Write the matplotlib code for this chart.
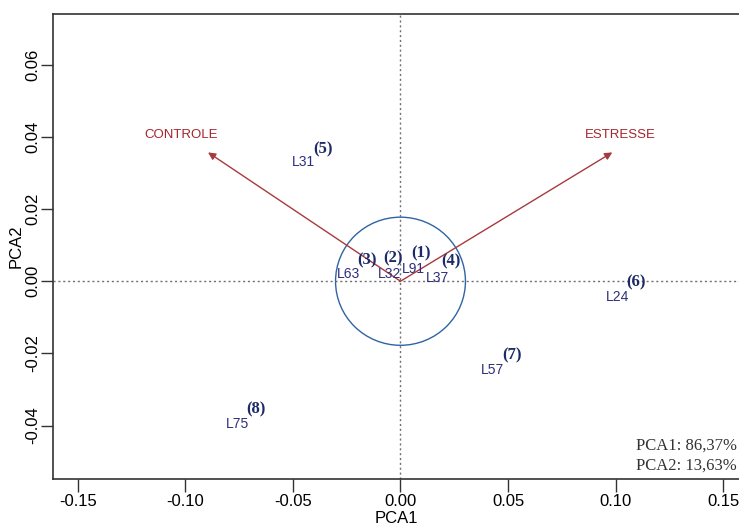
import numpy as np
from matplotlib import pyplot as plt
from matplotlib.patches import Ellipse

# genotype scores (label position) and their numbers
genotypes = ["L31", "L63", "L32", "L91", "L37", "L24", "L57", "L75"]
pc1 = [-0.045, -0.024, -0.005, 0.006, 0.017, 0.101, 0.043, -0.076]
pc2 = [0.033, 0.002, 0.0021, 0.0033, 0.001, -0.0045, -0.0245, -0.0395]
numbers = ["(5)", "(3)", "(2)", "(1)", "(4)", "(6)", "(7)", "(8)"]
num_x = [-0.036, -0.0155, -0.0035, 0.0095, 0.0235, 0.1095, 0.052, -0.067]
num_y = [0.0366, 0.0058, 0.0062, 0.0077, 0.0055, -0.0003, -0.0205, -0.0355]

# environment vectors
envs = ["CONTROLE", "ESTRESSE"]
env_x = [-0.0895, 0.0985]
env_y = [0.0357, 0.0357]
env_lab_x = [-0.102, 0.102]
env_lab_y = [0.0405, 0.0405]

xticks = [-0.15, -0.10, -0.05, 0.00, 0.05, 0.10, 0.15]
yticks = [-0.04, -0.02, 0.00, 0.02, 0.04, 0.06]

def main():
    fig = plt.figure(figsize=(7.39, 5.25), dpi=100)
    ax = fig.add_axes([0.0717, 0.0876, 0.93, 0.8854])
    ax.set_xlim(-0.1616, 0.158)
    ax.set_ylim(-0.0548, 0.074)

    ax.axvline(0, color='#707070', ls=(0, (1.5, 2)), lw=1)
    ax.axhline(0, color='#707070', ls=(0, (1.5, 2)), lw=1)

    # circle around origin (round on screen)
    ax.add_patch(Ellipse((0, 0), 0.0604, 0.0355, fill=False, ec='#2f64a3', lw=1))

    for i in range(len(envs)):
        ax.annotate("", xy=(env_x[i], env_y[i]), xytext=(0, 0),
                    arrowprops=dict(arrowstyle='-|>', color='#a83a3e', lw=1,
                                    mutation_scale=11, shrinkA=0, shrinkB=0))
        ax.text(env_lab_x[i], env_lab_y[i], envs[i], color='#a3262c',
                fontsize=9.5, family='Liberation Sans', ha='center', va='center')

    for i in range(len(genotypes)):
        ax.text(pc1[i], pc2[i], genotypes[i], color='#2e2f7c', fontsize=10,
                family='Liberation Sans', ha='center', va='center')
        ax.text(num_x[i], num_y[i], numbers[i], color='#1c2a66', fontsize=12,
                family='Liberation Serif', weight='bold', ha='center', va='center')

    ax.text(0.995, 0.071, "PCA1: 86,37%", transform=ax.transAxes, ha='right', va='center',
            family='Liberation Serif', fontsize=12, color='#333333')
    ax.text(0.995, 0.028, "PCA2: 13,63%", transform=ax.transAxes, ha='right', va='center',
            family='Liberation Serif', fontsize=12, color='#333333')

    ax.set_xticks(xticks)
    ax.set_xticklabels(["%.2f" % v for v in xticks], family='Liberation Sans', fontsize=12)
    ax.set_yticks(yticks)
    ax.set_yticklabels(["%.2f" % v for v in yticks], family='Liberation Sans', fontsize=12,
                       rotation=90, va='center')
    ax.tick_params(length=9, width=1, color='#333333', pad=2)
    ax.tick_params(axis='y', pad=0)
    ax.spines['right'].set_visible(False)
    for s in ['left', 'top', 'bottom']:
        ax.spines[s].set_color('#333333')
        ax.spines[s].set_linewidth(1.2)
    ax.set_xlabel('PCA1', family='Liberation Sans', fontsize=12, labelpad=1)
    ax.set_ylabel('PCA2', family='Liberation Sans', fontsize=12, labelpad=1)

    plt.savefig('out.png', format='png', dpi=100)

if __name__ == "__main__":
    main()
